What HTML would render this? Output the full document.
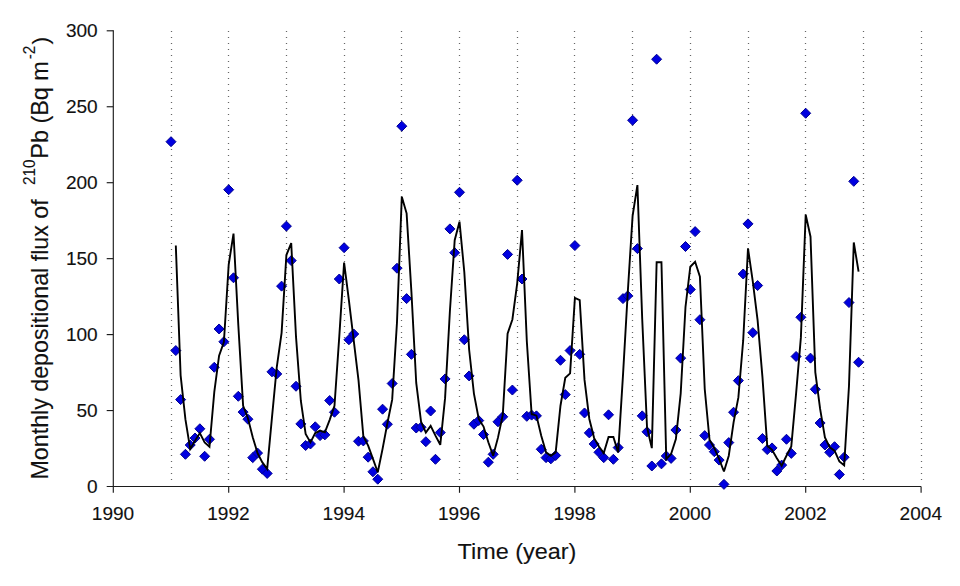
<!DOCTYPE html>
<html><head><meta charset="utf-8"><title>Monthly depositional flux of 210Pb</title>
<style>html,body{margin:0;padding:0;background:#fff;}body{width:960px;height:586px;overflow:hidden;}svg{display:block;}text{font-family:"Liberation Sans",sans-serif;fill:#111;stroke:#111;stroke-width:0.12;}</style>
</head><body>
<svg width="960" height="586" viewBox="0 0 960 586">
<rect x="0" y="0" width="960" height="586" fill="#ffffff"/>
<g stroke="#666666" stroke-width="1.05" fill="none">
<path d="M170.88 31.5h1.25M170.88 37.5h1.25M170.88 43.5h1.25M170.88 49.5h1.25M170.88 55.5h1.25M170.88 61.5h1.25M170.88 67.5h1.25M170.88 72.5h1.25M170.88 78.5h1.25M170.88 84.5h1.25M170.88 90.5h1.25M170.88 96.5h1.25M170.88 102.5h1.25M170.88 108.5h1.25M170.88 114.5h1.25M170.88 120.5h1.25M170.88 125.5h1.25M170.88 131.5h1.25M170.88 137.5h1.25M170.88 143.5h1.25M170.88 149.5h1.25M170.88 155.5h1.25M170.88 161.5h1.25M170.88 167.5h1.25M170.88 173.5h1.25M170.88 178.5h1.25M170.88 184.5h1.25M170.88 190.5h1.25M170.88 196.5h1.25M170.88 202.5h1.25M170.88 208.5h1.25M170.88 214.5h1.25M170.88 220.5h1.25M170.88 226.5h1.25M170.88 231.5h1.25M170.88 237.5h1.25M170.88 243.5h1.25M170.88 249.5h1.25M170.88 255.5h1.25M170.88 261.5h1.25M170.88 267.5h1.25M170.88 273.5h1.25M170.88 279.5h1.25M170.88 284.5h1.25M170.88 290.5h1.25M170.88 296.5h1.25M170.88 302.5h1.25M170.88 308.5h1.25M170.88 314.5h1.25M170.88 320.5h1.25M170.88 326.5h1.25M170.88 332.5h1.25M170.88 337.5h1.25M170.88 343.5h1.25M170.88 349.5h1.25M170.88 355.5h1.25M170.88 361.5h1.25M170.88 367.5h1.25M170.88 373.5h1.25M170.88 379.5h1.25M170.88 385.5h1.25M170.88 390.5h1.25M170.88 396.5h1.25M170.88 402.5h1.25M170.88 408.5h1.25M170.88 414.5h1.25M170.88 420.5h1.25M170.88 426.5h1.25M170.88 432.5h1.25M170.88 438.5h1.25M170.88 443.5h1.25M170.88 449.5h1.25M170.88 455.5h1.25M170.88 461.5h1.25M170.88 467.5h1.25M170.88 473.5h1.25M170.88 479.5h1.25"/>
<path d="M227.88 31.5h1.25M227.88 37.5h1.25M227.88 43.5h1.25M227.88 49.5h1.25M227.88 55.5h1.25M227.88 61.5h1.25M227.88 67.5h1.25M227.88 72.5h1.25M227.88 78.5h1.25M227.88 84.5h1.25M227.88 90.5h1.25M227.88 96.5h1.25M227.88 102.5h1.25M227.88 108.5h1.25M227.88 114.5h1.25M227.88 120.5h1.25M227.88 125.5h1.25M227.88 131.5h1.25M227.88 137.5h1.25M227.88 143.5h1.25M227.88 149.5h1.25M227.88 155.5h1.25M227.88 161.5h1.25M227.88 167.5h1.25M227.88 173.5h1.25M227.88 178.5h1.25M227.88 184.5h1.25M227.88 190.5h1.25M227.88 196.5h1.25M227.88 202.5h1.25M227.88 208.5h1.25M227.88 214.5h1.25M227.88 220.5h1.25M227.88 226.5h1.25M227.88 231.5h1.25M227.88 237.5h1.25M227.88 243.5h1.25M227.88 249.5h1.25M227.88 255.5h1.25M227.88 261.5h1.25M227.88 267.5h1.25M227.88 273.5h1.25M227.88 279.5h1.25M227.88 284.5h1.25M227.88 290.5h1.25M227.88 296.5h1.25M227.88 302.5h1.25M227.88 308.5h1.25M227.88 314.5h1.25M227.88 320.5h1.25M227.88 326.5h1.25M227.88 332.5h1.25M227.88 337.5h1.25M227.88 343.5h1.25M227.88 349.5h1.25M227.88 355.5h1.25M227.88 361.5h1.25M227.88 367.5h1.25M227.88 373.5h1.25M227.88 379.5h1.25M227.88 385.5h1.25M227.88 390.5h1.25M227.88 396.5h1.25M227.88 402.5h1.25M227.88 408.5h1.25M227.88 414.5h1.25M227.88 420.5h1.25M227.88 426.5h1.25M227.88 432.5h1.25M227.88 438.5h1.25M227.88 443.5h1.25M227.88 449.5h1.25M227.88 455.5h1.25M227.88 461.5h1.25M227.88 467.5h1.25M227.88 473.5h1.25M227.88 479.5h1.25"/>
<path d="M285.88 31.5h1.25M285.88 37.5h1.25M285.88 43.5h1.25M285.88 49.5h1.25M285.88 55.5h1.25M285.88 61.5h1.25M285.88 67.5h1.25M285.88 72.5h1.25M285.88 78.5h1.25M285.88 84.5h1.25M285.88 90.5h1.25M285.88 96.5h1.25M285.88 102.5h1.25M285.88 108.5h1.25M285.88 114.5h1.25M285.88 120.5h1.25M285.88 125.5h1.25M285.88 131.5h1.25M285.88 137.5h1.25M285.88 143.5h1.25M285.88 149.5h1.25M285.88 155.5h1.25M285.88 161.5h1.25M285.88 167.5h1.25M285.88 173.5h1.25M285.88 178.5h1.25M285.88 184.5h1.25M285.88 190.5h1.25M285.88 196.5h1.25M285.88 202.5h1.25M285.88 208.5h1.25M285.88 214.5h1.25M285.88 220.5h1.25M285.88 226.5h1.25M285.88 231.5h1.25M285.88 237.5h1.25M285.88 243.5h1.25M285.88 249.5h1.25M285.88 255.5h1.25M285.88 261.5h1.25M285.88 267.5h1.25M285.88 273.5h1.25M285.88 279.5h1.25M285.88 284.5h1.25M285.88 290.5h1.25M285.88 296.5h1.25M285.88 302.5h1.25M285.88 308.5h1.25M285.88 314.5h1.25M285.88 320.5h1.25M285.88 326.5h1.25M285.88 332.5h1.25M285.88 337.5h1.25M285.88 343.5h1.25M285.88 349.5h1.25M285.88 355.5h1.25M285.88 361.5h1.25M285.88 367.5h1.25M285.88 373.5h1.25M285.88 379.5h1.25M285.88 385.5h1.25M285.88 390.5h1.25M285.88 396.5h1.25M285.88 402.5h1.25M285.88 408.5h1.25M285.88 414.5h1.25M285.88 420.5h1.25M285.88 426.5h1.25M285.88 432.5h1.25M285.88 438.5h1.25M285.88 443.5h1.25M285.88 449.5h1.25M285.88 455.5h1.25M285.88 461.5h1.25M285.88 467.5h1.25M285.88 473.5h1.25M285.88 479.5h1.25"/>
<path d="M343.88 31.5h1.25M343.88 37.5h1.25M343.88 43.5h1.25M343.88 49.5h1.25M343.88 55.5h1.25M343.88 61.5h1.25M343.88 67.5h1.25M343.88 72.5h1.25M343.88 78.5h1.25M343.88 84.5h1.25M343.88 90.5h1.25M343.88 96.5h1.25M343.88 102.5h1.25M343.88 108.5h1.25M343.88 114.5h1.25M343.88 120.5h1.25M343.88 125.5h1.25M343.88 131.5h1.25M343.88 137.5h1.25M343.88 143.5h1.25M343.88 149.5h1.25M343.88 155.5h1.25M343.88 161.5h1.25M343.88 167.5h1.25M343.88 173.5h1.25M343.88 178.5h1.25M343.88 184.5h1.25M343.88 190.5h1.25M343.88 196.5h1.25M343.88 202.5h1.25M343.88 208.5h1.25M343.88 214.5h1.25M343.88 220.5h1.25M343.88 226.5h1.25M343.88 231.5h1.25M343.88 237.5h1.25M343.88 243.5h1.25M343.88 249.5h1.25M343.88 255.5h1.25M343.88 261.5h1.25M343.88 267.5h1.25M343.88 273.5h1.25M343.88 279.5h1.25M343.88 284.5h1.25M343.88 290.5h1.25M343.88 296.5h1.25M343.88 302.5h1.25M343.88 308.5h1.25M343.88 314.5h1.25M343.88 320.5h1.25M343.88 326.5h1.25M343.88 332.5h1.25M343.88 337.5h1.25M343.88 343.5h1.25M343.88 349.5h1.25M343.88 355.5h1.25M343.88 361.5h1.25M343.88 367.5h1.25M343.88 373.5h1.25M343.88 379.5h1.25M343.88 385.5h1.25M343.88 390.5h1.25M343.88 396.5h1.25M343.88 402.5h1.25M343.88 408.5h1.25M343.88 414.5h1.25M343.88 420.5h1.25M343.88 426.5h1.25M343.88 432.5h1.25M343.88 438.5h1.25M343.88 443.5h1.25M343.88 449.5h1.25M343.88 455.5h1.25M343.88 461.5h1.25M343.88 467.5h1.25M343.88 473.5h1.25M343.88 479.5h1.25"/>
<path d="M400.88 31.5h1.25M400.88 37.5h1.25M400.88 43.5h1.25M400.88 49.5h1.25M400.88 55.5h1.25M400.88 61.5h1.25M400.88 67.5h1.25M400.88 72.5h1.25M400.88 78.5h1.25M400.88 84.5h1.25M400.88 90.5h1.25M400.88 96.5h1.25M400.88 102.5h1.25M400.88 108.5h1.25M400.88 114.5h1.25M400.88 120.5h1.25M400.88 125.5h1.25M400.88 131.5h1.25M400.88 137.5h1.25M400.88 143.5h1.25M400.88 149.5h1.25M400.88 155.5h1.25M400.88 161.5h1.25M400.88 167.5h1.25M400.88 173.5h1.25M400.88 178.5h1.25M400.88 184.5h1.25M400.88 190.5h1.25M400.88 196.5h1.25M400.88 202.5h1.25M400.88 208.5h1.25M400.88 214.5h1.25M400.88 220.5h1.25M400.88 226.5h1.25M400.88 231.5h1.25M400.88 237.5h1.25M400.88 243.5h1.25M400.88 249.5h1.25M400.88 255.5h1.25M400.88 261.5h1.25M400.88 267.5h1.25M400.88 273.5h1.25M400.88 279.5h1.25M400.88 284.5h1.25M400.88 290.5h1.25M400.88 296.5h1.25M400.88 302.5h1.25M400.88 308.5h1.25M400.88 314.5h1.25M400.88 320.5h1.25M400.88 326.5h1.25M400.88 332.5h1.25M400.88 337.5h1.25M400.88 343.5h1.25M400.88 349.5h1.25M400.88 355.5h1.25M400.88 361.5h1.25M400.88 367.5h1.25M400.88 373.5h1.25M400.88 379.5h1.25M400.88 385.5h1.25M400.88 390.5h1.25M400.88 396.5h1.25M400.88 402.5h1.25M400.88 408.5h1.25M400.88 414.5h1.25M400.88 420.5h1.25M400.88 426.5h1.25M400.88 432.5h1.25M400.88 438.5h1.25M400.88 443.5h1.25M400.88 449.5h1.25M400.88 455.5h1.25M400.88 461.5h1.25M400.88 467.5h1.25M400.88 473.5h1.25M400.88 479.5h1.25"/>
<path d="M458.88 31.5h1.25M458.88 37.5h1.25M458.88 43.5h1.25M458.88 49.5h1.25M458.88 55.5h1.25M458.88 61.5h1.25M458.88 67.5h1.25M458.88 72.5h1.25M458.88 78.5h1.25M458.88 84.5h1.25M458.88 90.5h1.25M458.88 96.5h1.25M458.88 102.5h1.25M458.88 108.5h1.25M458.88 114.5h1.25M458.88 120.5h1.25M458.88 125.5h1.25M458.88 131.5h1.25M458.88 137.5h1.25M458.88 143.5h1.25M458.88 149.5h1.25M458.88 155.5h1.25M458.88 161.5h1.25M458.88 167.5h1.25M458.88 173.5h1.25M458.88 178.5h1.25M458.88 184.5h1.25M458.88 190.5h1.25M458.88 196.5h1.25M458.88 202.5h1.25M458.88 208.5h1.25M458.88 214.5h1.25M458.88 220.5h1.25M458.88 226.5h1.25M458.88 231.5h1.25M458.88 237.5h1.25M458.88 243.5h1.25M458.88 249.5h1.25M458.88 255.5h1.25M458.88 261.5h1.25M458.88 267.5h1.25M458.88 273.5h1.25M458.88 279.5h1.25M458.88 284.5h1.25M458.88 290.5h1.25M458.88 296.5h1.25M458.88 302.5h1.25M458.88 308.5h1.25M458.88 314.5h1.25M458.88 320.5h1.25M458.88 326.5h1.25M458.88 332.5h1.25M458.88 337.5h1.25M458.88 343.5h1.25M458.88 349.5h1.25M458.88 355.5h1.25M458.88 361.5h1.25M458.88 367.5h1.25M458.88 373.5h1.25M458.88 379.5h1.25M458.88 385.5h1.25M458.88 390.5h1.25M458.88 396.5h1.25M458.88 402.5h1.25M458.88 408.5h1.25M458.88 414.5h1.25M458.88 420.5h1.25M458.88 426.5h1.25M458.88 432.5h1.25M458.88 438.5h1.25M458.88 443.5h1.25M458.88 449.5h1.25M458.88 455.5h1.25M458.88 461.5h1.25M458.88 467.5h1.25M458.88 473.5h1.25M458.88 479.5h1.25"/>
<path d="M516.88 31.5h1.25M516.88 37.5h1.25M516.88 43.5h1.25M516.88 49.5h1.25M516.88 55.5h1.25M516.88 61.5h1.25M516.88 67.5h1.25M516.88 72.5h1.25M516.88 78.5h1.25M516.88 84.5h1.25M516.88 90.5h1.25M516.88 96.5h1.25M516.88 102.5h1.25M516.88 108.5h1.25M516.88 114.5h1.25M516.88 120.5h1.25M516.88 125.5h1.25M516.88 131.5h1.25M516.88 137.5h1.25M516.88 143.5h1.25M516.88 149.5h1.25M516.88 155.5h1.25M516.88 161.5h1.25M516.88 167.5h1.25M516.88 173.5h1.25M516.88 178.5h1.25M516.88 184.5h1.25M516.88 190.5h1.25M516.88 196.5h1.25M516.88 202.5h1.25M516.88 208.5h1.25M516.88 214.5h1.25M516.88 220.5h1.25M516.88 226.5h1.25M516.88 231.5h1.25M516.88 237.5h1.25M516.88 243.5h1.25M516.88 249.5h1.25M516.88 255.5h1.25M516.88 261.5h1.25M516.88 267.5h1.25M516.88 273.5h1.25M516.88 279.5h1.25M516.88 284.5h1.25M516.88 290.5h1.25M516.88 296.5h1.25M516.88 302.5h1.25M516.88 308.5h1.25M516.88 314.5h1.25M516.88 320.5h1.25M516.88 326.5h1.25M516.88 332.5h1.25M516.88 337.5h1.25M516.88 343.5h1.25M516.88 349.5h1.25M516.88 355.5h1.25M516.88 361.5h1.25M516.88 367.5h1.25M516.88 373.5h1.25M516.88 379.5h1.25M516.88 385.5h1.25M516.88 390.5h1.25M516.88 396.5h1.25M516.88 402.5h1.25M516.88 408.5h1.25M516.88 414.5h1.25M516.88 420.5h1.25M516.88 426.5h1.25M516.88 432.5h1.25M516.88 438.5h1.25M516.88 443.5h1.25M516.88 449.5h1.25M516.88 455.5h1.25M516.88 461.5h1.25M516.88 467.5h1.25M516.88 473.5h1.25M516.88 479.5h1.25"/>
<path d="M573.88 31.5h1.25M573.88 37.5h1.25M573.88 43.5h1.25M573.88 49.5h1.25M573.88 55.5h1.25M573.88 61.5h1.25M573.88 67.5h1.25M573.88 72.5h1.25M573.88 78.5h1.25M573.88 84.5h1.25M573.88 90.5h1.25M573.88 96.5h1.25M573.88 102.5h1.25M573.88 108.5h1.25M573.88 114.5h1.25M573.88 120.5h1.25M573.88 125.5h1.25M573.88 131.5h1.25M573.88 137.5h1.25M573.88 143.5h1.25M573.88 149.5h1.25M573.88 155.5h1.25M573.88 161.5h1.25M573.88 167.5h1.25M573.88 173.5h1.25M573.88 178.5h1.25M573.88 184.5h1.25M573.88 190.5h1.25M573.88 196.5h1.25M573.88 202.5h1.25M573.88 208.5h1.25M573.88 214.5h1.25M573.88 220.5h1.25M573.88 226.5h1.25M573.88 231.5h1.25M573.88 237.5h1.25M573.88 243.5h1.25M573.88 249.5h1.25M573.88 255.5h1.25M573.88 261.5h1.25M573.88 267.5h1.25M573.88 273.5h1.25M573.88 279.5h1.25M573.88 284.5h1.25M573.88 290.5h1.25M573.88 296.5h1.25M573.88 302.5h1.25M573.88 308.5h1.25M573.88 314.5h1.25M573.88 320.5h1.25M573.88 326.5h1.25M573.88 332.5h1.25M573.88 337.5h1.25M573.88 343.5h1.25M573.88 349.5h1.25M573.88 355.5h1.25M573.88 361.5h1.25M573.88 367.5h1.25M573.88 373.5h1.25M573.88 379.5h1.25M573.88 385.5h1.25M573.88 390.5h1.25M573.88 396.5h1.25M573.88 402.5h1.25M573.88 408.5h1.25M573.88 414.5h1.25M573.88 420.5h1.25M573.88 426.5h1.25M573.88 432.5h1.25M573.88 438.5h1.25M573.88 443.5h1.25M573.88 449.5h1.25M573.88 455.5h1.25M573.88 461.5h1.25M573.88 467.5h1.25M573.88 473.5h1.25M573.88 479.5h1.25"/>
<path d="M631.88 31.5h1.25M631.88 37.5h1.25M631.88 43.5h1.25M631.88 49.5h1.25M631.88 55.5h1.25M631.88 61.5h1.25M631.88 67.5h1.25M631.88 72.5h1.25M631.88 78.5h1.25M631.88 84.5h1.25M631.88 90.5h1.25M631.88 96.5h1.25M631.88 102.5h1.25M631.88 108.5h1.25M631.88 114.5h1.25M631.88 120.5h1.25M631.88 125.5h1.25M631.88 131.5h1.25M631.88 137.5h1.25M631.88 143.5h1.25M631.88 149.5h1.25M631.88 155.5h1.25M631.88 161.5h1.25M631.88 167.5h1.25M631.88 173.5h1.25M631.88 178.5h1.25M631.88 184.5h1.25M631.88 190.5h1.25M631.88 196.5h1.25M631.88 202.5h1.25M631.88 208.5h1.25M631.88 214.5h1.25M631.88 220.5h1.25M631.88 226.5h1.25M631.88 231.5h1.25M631.88 237.5h1.25M631.88 243.5h1.25M631.88 249.5h1.25M631.88 255.5h1.25M631.88 261.5h1.25M631.88 267.5h1.25M631.88 273.5h1.25M631.88 279.5h1.25M631.88 284.5h1.25M631.88 290.5h1.25M631.88 296.5h1.25M631.88 302.5h1.25M631.88 308.5h1.25M631.88 314.5h1.25M631.88 320.5h1.25M631.88 326.5h1.25M631.88 332.5h1.25M631.88 337.5h1.25M631.88 343.5h1.25M631.88 349.5h1.25M631.88 355.5h1.25M631.88 361.5h1.25M631.88 367.5h1.25M631.88 373.5h1.25M631.88 379.5h1.25M631.88 385.5h1.25M631.88 390.5h1.25M631.88 396.5h1.25M631.88 402.5h1.25M631.88 408.5h1.25M631.88 414.5h1.25M631.88 420.5h1.25M631.88 426.5h1.25M631.88 432.5h1.25M631.88 438.5h1.25M631.88 443.5h1.25M631.88 449.5h1.25M631.88 455.5h1.25M631.88 461.5h1.25M631.88 467.5h1.25M631.88 473.5h1.25M631.88 479.5h1.25"/>
<path d="M689.88 31.5h1.25M689.88 37.5h1.25M689.88 43.5h1.25M689.88 49.5h1.25M689.88 55.5h1.25M689.88 61.5h1.25M689.88 67.5h1.25M689.88 72.5h1.25M689.88 78.5h1.25M689.88 84.5h1.25M689.88 90.5h1.25M689.88 96.5h1.25M689.88 102.5h1.25M689.88 108.5h1.25M689.88 114.5h1.25M689.88 120.5h1.25M689.88 125.5h1.25M689.88 131.5h1.25M689.88 137.5h1.25M689.88 143.5h1.25M689.88 149.5h1.25M689.88 155.5h1.25M689.88 161.5h1.25M689.88 167.5h1.25M689.88 173.5h1.25M689.88 178.5h1.25M689.88 184.5h1.25M689.88 190.5h1.25M689.88 196.5h1.25M689.88 202.5h1.25M689.88 208.5h1.25M689.88 214.5h1.25M689.88 220.5h1.25M689.88 226.5h1.25M689.88 231.5h1.25M689.88 237.5h1.25M689.88 243.5h1.25M689.88 249.5h1.25M689.88 255.5h1.25M689.88 261.5h1.25M689.88 267.5h1.25M689.88 273.5h1.25M689.88 279.5h1.25M689.88 284.5h1.25M689.88 290.5h1.25M689.88 296.5h1.25M689.88 302.5h1.25M689.88 308.5h1.25M689.88 314.5h1.25M689.88 320.5h1.25M689.88 326.5h1.25M689.88 332.5h1.25M689.88 337.5h1.25M689.88 343.5h1.25M689.88 349.5h1.25M689.88 355.5h1.25M689.88 361.5h1.25M689.88 367.5h1.25M689.88 373.5h1.25M689.88 379.5h1.25M689.88 385.5h1.25M689.88 390.5h1.25M689.88 396.5h1.25M689.88 402.5h1.25M689.88 408.5h1.25M689.88 414.5h1.25M689.88 420.5h1.25M689.88 426.5h1.25M689.88 432.5h1.25M689.88 438.5h1.25M689.88 443.5h1.25M689.88 449.5h1.25M689.88 455.5h1.25M689.88 461.5h1.25M689.88 467.5h1.25M689.88 473.5h1.25M689.88 479.5h1.25"/>
<path d="M747.88 31.5h1.25M747.88 37.5h1.25M747.88 43.5h1.25M747.88 49.5h1.25M747.88 55.5h1.25M747.88 61.5h1.25M747.88 67.5h1.25M747.88 72.5h1.25M747.88 78.5h1.25M747.88 84.5h1.25M747.88 90.5h1.25M747.88 96.5h1.25M747.88 102.5h1.25M747.88 108.5h1.25M747.88 114.5h1.25M747.88 120.5h1.25M747.88 125.5h1.25M747.88 131.5h1.25M747.88 137.5h1.25M747.88 143.5h1.25M747.88 149.5h1.25M747.88 155.5h1.25M747.88 161.5h1.25M747.88 167.5h1.25M747.88 173.5h1.25M747.88 178.5h1.25M747.88 184.5h1.25M747.88 190.5h1.25M747.88 196.5h1.25M747.88 202.5h1.25M747.88 208.5h1.25M747.88 214.5h1.25M747.88 220.5h1.25M747.88 226.5h1.25M747.88 231.5h1.25M747.88 237.5h1.25M747.88 243.5h1.25M747.88 249.5h1.25M747.88 255.5h1.25M747.88 261.5h1.25M747.88 267.5h1.25M747.88 273.5h1.25M747.88 279.5h1.25M747.88 284.5h1.25M747.88 290.5h1.25M747.88 296.5h1.25M747.88 302.5h1.25M747.88 308.5h1.25M747.88 314.5h1.25M747.88 320.5h1.25M747.88 326.5h1.25M747.88 332.5h1.25M747.88 337.5h1.25M747.88 343.5h1.25M747.88 349.5h1.25M747.88 355.5h1.25M747.88 361.5h1.25M747.88 367.5h1.25M747.88 373.5h1.25M747.88 379.5h1.25M747.88 385.5h1.25M747.88 390.5h1.25M747.88 396.5h1.25M747.88 402.5h1.25M747.88 408.5h1.25M747.88 414.5h1.25M747.88 420.5h1.25M747.88 426.5h1.25M747.88 432.5h1.25M747.88 438.5h1.25M747.88 443.5h1.25M747.88 449.5h1.25M747.88 455.5h1.25M747.88 461.5h1.25M747.88 467.5h1.25M747.88 473.5h1.25M747.88 479.5h1.25"/>
<path d="M804.88 31.5h1.25M804.88 37.5h1.25M804.88 43.5h1.25M804.88 49.5h1.25M804.88 55.5h1.25M804.88 61.5h1.25M804.88 67.5h1.25M804.88 72.5h1.25M804.88 78.5h1.25M804.88 84.5h1.25M804.88 90.5h1.25M804.88 96.5h1.25M804.88 102.5h1.25M804.88 108.5h1.25M804.88 114.5h1.25M804.88 120.5h1.25M804.88 125.5h1.25M804.88 131.5h1.25M804.88 137.5h1.25M804.88 143.5h1.25M804.88 149.5h1.25M804.88 155.5h1.25M804.88 161.5h1.25M804.88 167.5h1.25M804.88 173.5h1.25M804.88 178.5h1.25M804.88 184.5h1.25M804.88 190.5h1.25M804.88 196.5h1.25M804.88 202.5h1.25M804.88 208.5h1.25M804.88 214.5h1.25M804.88 220.5h1.25M804.88 226.5h1.25M804.88 231.5h1.25M804.88 237.5h1.25M804.88 243.5h1.25M804.88 249.5h1.25M804.88 255.5h1.25M804.88 261.5h1.25M804.88 267.5h1.25M804.88 273.5h1.25M804.88 279.5h1.25M804.88 284.5h1.25M804.88 290.5h1.25M804.88 296.5h1.25M804.88 302.5h1.25M804.88 308.5h1.25M804.88 314.5h1.25M804.88 320.5h1.25M804.88 326.5h1.25M804.88 332.5h1.25M804.88 337.5h1.25M804.88 343.5h1.25M804.88 349.5h1.25M804.88 355.5h1.25M804.88 361.5h1.25M804.88 367.5h1.25M804.88 373.5h1.25M804.88 379.5h1.25M804.88 385.5h1.25M804.88 390.5h1.25M804.88 396.5h1.25M804.88 402.5h1.25M804.88 408.5h1.25M804.88 414.5h1.25M804.88 420.5h1.25M804.88 426.5h1.25M804.88 432.5h1.25M804.88 438.5h1.25M804.88 443.5h1.25M804.88 449.5h1.25M804.88 455.5h1.25M804.88 461.5h1.25M804.88 467.5h1.25M804.88 473.5h1.25M804.88 479.5h1.25"/>
<path d="M862.88 31.5h1.25M862.88 37.5h1.25M862.88 43.5h1.25M862.88 49.5h1.25M862.88 55.5h1.25M862.88 61.5h1.25M862.88 67.5h1.25M862.88 72.5h1.25M862.88 78.5h1.25M862.88 84.5h1.25M862.88 90.5h1.25M862.88 96.5h1.25M862.88 102.5h1.25M862.88 108.5h1.25M862.88 114.5h1.25M862.88 120.5h1.25M862.88 125.5h1.25M862.88 131.5h1.25M862.88 137.5h1.25M862.88 143.5h1.25M862.88 149.5h1.25M862.88 155.5h1.25M862.88 161.5h1.25M862.88 167.5h1.25M862.88 173.5h1.25M862.88 178.5h1.25M862.88 184.5h1.25M862.88 190.5h1.25M862.88 196.5h1.25M862.88 202.5h1.25M862.88 208.5h1.25M862.88 214.5h1.25M862.88 220.5h1.25M862.88 226.5h1.25M862.88 231.5h1.25M862.88 237.5h1.25M862.88 243.5h1.25M862.88 249.5h1.25M862.88 255.5h1.25M862.88 261.5h1.25M862.88 267.5h1.25M862.88 273.5h1.25M862.88 279.5h1.25M862.88 284.5h1.25M862.88 290.5h1.25M862.88 296.5h1.25M862.88 302.5h1.25M862.88 308.5h1.25M862.88 314.5h1.25M862.88 320.5h1.25M862.88 326.5h1.25M862.88 332.5h1.25M862.88 337.5h1.25M862.88 343.5h1.25M862.88 349.5h1.25M862.88 355.5h1.25M862.88 361.5h1.25M862.88 367.5h1.25M862.88 373.5h1.25M862.88 379.5h1.25M862.88 385.5h1.25M862.88 390.5h1.25M862.88 396.5h1.25M862.88 402.5h1.25M862.88 408.5h1.25M862.88 414.5h1.25M862.88 420.5h1.25M862.88 426.5h1.25M862.88 432.5h1.25M862.88 438.5h1.25M862.88 443.5h1.25M862.88 449.5h1.25M862.88 455.5h1.25M862.88 461.5h1.25M862.88 467.5h1.25M862.88 473.5h1.25M862.88 479.5h1.25"/>
<path d="M920.88 31.5h1.25M920.88 37.5h1.25M920.88 43.5h1.25M920.88 49.5h1.25M920.88 55.5h1.25M920.88 61.5h1.25M920.88 67.5h1.25M920.88 72.5h1.25M920.88 78.5h1.25M920.88 84.5h1.25M920.88 90.5h1.25M920.88 96.5h1.25M920.88 102.5h1.25M920.88 108.5h1.25M920.88 114.5h1.25M920.88 120.5h1.25M920.88 125.5h1.25M920.88 131.5h1.25M920.88 137.5h1.25M920.88 143.5h1.25M920.88 149.5h1.25M920.88 155.5h1.25M920.88 161.5h1.25M920.88 167.5h1.25M920.88 173.5h1.25M920.88 178.5h1.25M920.88 184.5h1.25M920.88 190.5h1.25M920.88 196.5h1.25M920.88 202.5h1.25M920.88 208.5h1.25M920.88 214.5h1.25M920.88 220.5h1.25M920.88 226.5h1.25M920.88 231.5h1.25M920.88 237.5h1.25M920.88 243.5h1.25M920.88 249.5h1.25M920.88 255.5h1.25M920.88 261.5h1.25M920.88 267.5h1.25M920.88 273.5h1.25M920.88 279.5h1.25M920.88 284.5h1.25M920.88 290.5h1.25M920.88 296.5h1.25M920.88 302.5h1.25M920.88 308.5h1.25M920.88 314.5h1.25M920.88 320.5h1.25M920.88 326.5h1.25M920.88 332.5h1.25M920.88 337.5h1.25M920.88 343.5h1.25M920.88 349.5h1.25M920.88 355.5h1.25M920.88 361.5h1.25M920.88 367.5h1.25M920.88 373.5h1.25M920.88 379.5h1.25M920.88 385.5h1.25M920.88 390.5h1.25M920.88 396.5h1.25M920.88 402.5h1.25M920.88 408.5h1.25M920.88 414.5h1.25M920.88 420.5h1.25M920.88 426.5h1.25M920.88 432.5h1.25M920.88 438.5h1.25M920.88 443.5h1.25M920.88 449.5h1.25M920.88 455.5h1.25M920.88 461.5h1.25M920.88 467.5h1.25M920.88 473.5h1.25M920.88 479.5h1.25"/>
</g>
<g stroke="#1c1c1c" stroke-width="1.15" fill="none">
<line x1="113.30" y1="30.23" x2="113.30" y2="487.07"/>
<line x1="106.70" y1="486.50" x2="921.10" y2="486.50"/>
<line x1="106.70" y1="410.55" x2="113.30" y2="410.55"/>
<line x1="106.70" y1="334.60" x2="113.30" y2="334.60"/>
<line x1="106.70" y1="258.65" x2="113.30" y2="258.65"/>
<line x1="106.70" y1="182.70" x2="113.30" y2="182.70"/>
<line x1="106.70" y1="106.75" x2="113.30" y2="106.75"/>
<line x1="106.70" y1="30.80" x2="113.30" y2="30.80"/>
<line x1="113.30" y1="486.50" x2="113.30" y2="492.80"/>
<line x1="228.70" y1="486.50" x2="228.70" y2="492.80"/>
<line x1="344.10" y1="486.50" x2="344.10" y2="492.80"/>
<line x1="459.50" y1="486.50" x2="459.50" y2="492.80"/>
<line x1="574.90" y1="486.50" x2="574.90" y2="492.80"/>
<line x1="690.30" y1="486.50" x2="690.30" y2="492.80"/>
<line x1="805.70" y1="486.50" x2="805.70" y2="492.80"/>
<line x1="921.10" y1="486.50" x2="921.10" y2="492.80"/>
</g>
<g fill="#0000E0" stroke="#000090" stroke-width="1.00" stroke-linejoin="miter">
<path d="M171.00 136.69 L176.00 141.69 L171.00 146.69 L166.00 141.69Z"/>
<path d="M175.81 345.55 L180.81 350.55 L175.81 355.55 L170.81 350.55Z"/>
<path d="M180.62 394.61 L185.62 399.61 L180.62 404.61 L175.62 399.61Z"/>
<path d="M185.43 449.30 L190.43 454.30 L185.43 459.30 L180.43 454.30Z"/>
<path d="M190.23 440.03 L195.23 445.03 L190.23 450.03 L185.23 445.03Z"/>
<path d="M195.04 433.04 L200.04 438.04 L195.04 443.04 L190.04 438.04Z"/>
<path d="M199.85 423.78 L204.85 428.78 L199.85 433.78 L194.85 428.78Z"/>
<path d="M204.66 451.27 L209.66 456.27 L204.66 461.27 L199.66 456.27Z"/>
<path d="M209.47 434.26 L214.47 439.26 L209.47 444.26 L204.47 439.26Z"/>
<path d="M214.28 362.26 L219.28 367.26 L214.28 372.26 L209.28 367.26Z"/>
<path d="M219.08 323.98 L224.08 328.98 L219.08 333.98 L214.08 328.98Z"/>
<path d="M223.89 336.74 L228.89 341.74 L223.89 346.74 L218.89 341.74Z"/>
<path d="M228.70 184.69 L233.70 189.69 L228.70 194.69 L223.70 189.69Z"/>
<path d="M233.51 272.79 L238.51 277.79 L233.51 282.79 L228.51 277.79Z"/>
<path d="M238.32 391.27 L243.32 396.27 L238.32 401.27 L233.32 396.27Z"/>
<path d="M243.12 407.07 L248.12 412.07 L243.12 417.07 L238.12 412.07Z"/>
<path d="M247.93 414.21 L252.93 419.21 L247.93 424.21 L242.93 419.21Z"/>
<path d="M252.74 452.64 L257.74 457.64 L252.74 462.64 L247.74 457.64Z"/>
<path d="M257.55 448.08 L262.55 453.08 L257.55 458.08 L252.55 453.08Z"/>
<path d="M262.36 464.18 L267.36 469.18 L262.36 474.18 L257.36 469.18Z"/>
<path d="M267.17 468.44 L272.17 473.44 L267.17 478.44 L262.17 473.44Z"/>
<path d="M271.98 366.82 L276.98 371.82 L271.98 376.82 L266.98 371.82Z"/>
<path d="M276.78 368.94 L281.78 373.94 L276.78 378.94 L271.78 373.94Z"/>
<path d="M281.59 281.14 L286.59 286.14 L281.59 291.14 L276.59 286.14Z"/>
<path d="M286.40 221.14 L291.40 226.14 L286.40 231.14 L281.40 226.14Z"/>
<path d="M291.21 255.62 L296.21 260.62 L291.21 265.62 L286.21 260.62Z"/>
<path d="M296.02 381.25 L301.02 386.25 L296.02 391.25 L291.02 386.25Z"/>
<path d="M300.83 418.92 L305.83 423.92 L300.83 428.92 L295.83 423.92Z"/>
<path d="M305.63 440.49 L310.63 445.49 L305.63 450.49 L300.63 445.49Z"/>
<path d="M310.44 438.97 L315.44 443.97 L310.44 448.97 L305.44 443.97Z"/>
<path d="M315.25 421.80 L320.25 426.80 L315.25 431.80 L310.25 426.80Z"/>
<path d="M320.06 430.61 L325.06 435.61 L320.06 440.61 L315.06 435.61Z"/>
<path d="M324.87 429.85 L329.87 434.85 L324.87 439.85 L319.87 434.85Z"/>
<path d="M329.68 395.52 L334.68 400.52 L329.68 405.52 L324.68 400.52Z"/>
<path d="M334.48 407.22 L339.48 412.22 L334.48 417.22 L329.48 412.22Z"/>
<path d="M339.29 274.00 L344.29 279.00 L339.29 284.00 L334.29 279.00Z"/>
<path d="M344.10 242.71 L349.10 247.71 L344.10 252.71 L339.10 247.71Z"/>
<path d="M348.91 334.76 L353.91 339.76 L348.91 344.76 L343.91 339.76Z"/>
<path d="M353.72 328.99 L358.72 333.99 L353.72 338.99 L348.72 333.99Z"/>
<path d="M358.52 436.23 L363.52 441.23 L358.52 446.23 L353.52 441.23Z"/>
<path d="M363.33 435.93 L368.33 440.93 L363.33 445.93 L358.33 440.93Z"/>
<path d="M368.14 452.18 L373.14 457.18 L368.14 462.18 L363.14 457.18Z"/>
<path d="M372.95 466.77 L377.95 471.77 L372.95 476.77 L367.95 471.77Z"/>
<path d="M377.76 474.21 L382.76 479.21 L377.76 484.21 L372.76 479.21Z"/>
<path d="M382.57 404.18 L387.57 409.18 L382.57 414.18 L377.57 409.18Z"/>
<path d="M387.38 419.22 L392.38 424.22 L387.38 429.22 L382.38 424.22Z"/>
<path d="M392.18 378.51 L397.18 383.51 L392.18 388.51 L387.18 383.51Z"/>
<path d="M396.99 263.22 L401.99 268.22 L396.99 273.22 L391.99 268.22Z"/>
<path d="M401.80 121.19 L406.80 126.19 L401.80 131.19 L396.80 126.19Z"/>
<path d="M406.61 293.60 L411.61 298.60 L406.61 303.60 L401.61 298.60Z"/>
<path d="M411.42 349.35 L416.42 354.35 L411.42 359.35 L406.42 354.35Z"/>
<path d="M416.23 423.02 L421.23 428.02 L416.23 433.02 L411.23 428.02Z"/>
<path d="M421.03 422.26 L426.03 427.26 L421.03 432.26 L416.03 427.26Z"/>
<path d="M425.84 436.69 L430.84 441.69 L425.84 446.69 L420.84 441.69Z"/>
<path d="M430.65 406.01 L435.65 411.01 L430.65 416.01 L425.65 411.01Z"/>
<path d="M435.46 454.31 L440.46 459.31 L435.46 464.31 L430.46 459.31Z"/>
<path d="M440.27 427.58 L445.27 432.58 L440.27 437.58 L435.27 432.58Z"/>
<path d="M445.07 373.95 L450.07 378.95 L445.07 383.95 L440.07 378.95Z"/>
<path d="M449.88 223.88 L454.88 228.88 L449.88 233.88 L444.88 228.88Z"/>
<path d="M454.69 247.73 L459.69 252.73 L454.69 257.73 L449.69 252.73Z"/>
<path d="M459.50 187.27 L464.50 192.27 L459.50 197.27 L454.50 192.27Z"/>
<path d="M464.31 334.76 L469.31 339.76 L464.31 344.76 L459.31 339.76Z"/>
<path d="M469.12 370.92 L474.12 375.92 L469.12 380.92 L464.12 375.92Z"/>
<path d="M473.93 419.22 L478.93 424.22 L473.93 429.22 L468.93 424.22Z"/>
<path d="M478.73 415.58 L483.73 420.58 L478.73 425.58 L473.73 420.58Z"/>
<path d="M483.54 429.55 L488.54 434.55 L483.54 439.55 L478.54 434.55Z"/>
<path d="M488.35 457.20 L493.35 462.20 L488.35 467.20 L483.35 462.20Z"/>
<path d="M493.16 449.30 L498.16 454.30 L493.16 459.30 L488.16 454.30Z"/>
<path d="M497.97 416.79 L502.97 421.79 L497.97 426.79 L492.97 421.79Z"/>
<path d="M502.78 411.78 L507.78 416.78 L502.78 421.78 L497.78 416.78Z"/>
<path d="M507.58 249.40 L512.58 254.40 L507.58 259.40 L502.58 254.40Z"/>
<path d="M512.39 385.04 L517.39 390.04 L512.39 395.04 L507.39 390.04Z"/>
<path d="M517.20 175.27 L522.20 180.27 L517.20 185.27 L512.20 180.27Z"/>
<path d="M522.01 274.00 L527.01 279.00 L522.01 284.00 L517.01 279.00Z"/>
<path d="M526.82 411.32 L531.82 416.32 L526.82 421.32 L521.82 416.32Z"/>
<path d="M531.62 410.11 L536.62 415.11 L531.62 420.11 L526.62 415.11Z"/>
<path d="M536.43 410.87 L541.43 415.87 L536.43 420.87 L531.43 415.87Z"/>
<path d="M541.24 444.28 L546.24 449.28 L541.24 454.28 L536.24 449.28Z"/>
<path d="M546.05 452.64 L551.05 457.64 L546.05 462.64 L541.05 457.64Z"/>
<path d="M550.86 453.85 L555.86 458.85 L550.86 463.85 L545.86 458.85Z"/>
<path d="M555.67 450.51 L560.67 455.51 L555.67 460.51 L550.67 455.51Z"/>
<path d="M560.47 355.27 L565.47 360.27 L560.47 365.27 L555.47 360.27Z"/>
<path d="M565.28 389.60 L570.28 394.60 L565.28 399.60 L560.28 394.60Z"/>
<path d="M570.09 345.55 L575.09 350.55 L570.09 355.55 L565.09 350.55Z"/>
<path d="M574.90 240.59 L579.90 245.59 L574.90 250.59 L569.90 245.59Z"/>
<path d="M579.71 349.35 L584.71 354.35 L579.71 359.35 L574.71 354.35Z"/>
<path d="M584.52 407.98 L589.52 412.98 L584.52 417.98 L579.52 412.98Z"/>
<path d="M589.33 427.88 L594.33 432.88 L589.33 437.88 L584.33 432.88Z"/>
<path d="M594.13 438.97 L599.13 443.97 L594.13 448.97 L589.13 443.97Z"/>
<path d="M598.94 447.32 L603.94 452.32 L598.94 457.32 L593.94 452.32Z"/>
<path d="M603.75 452.64 L608.75 457.64 L603.75 462.64 L598.75 457.64Z"/>
<path d="M608.56 409.80 L613.56 414.80 L608.56 419.80 L603.56 414.80Z"/>
<path d="M613.37 454.31 L618.37 459.31 L613.37 464.31 L608.37 459.31Z"/>
<path d="M618.17 442.61 L623.17 447.61 L618.17 452.61 L613.17 447.61Z"/>
<path d="M622.98 293.60 L627.98 298.60 L622.98 303.60 L617.98 298.60Z"/>
<path d="M627.79 290.87 L632.79 295.87 L627.79 300.87 L622.79 295.87Z"/>
<path d="M632.60 115.27 L637.60 120.27 L632.60 125.27 L627.60 120.27Z"/>
<path d="M637.41 243.62 L642.41 248.62 L637.41 253.62 L632.41 248.62Z"/>
<path d="M642.22 410.87 L647.22 415.87 L642.22 420.87 L637.22 415.87Z"/>
<path d="M647.03 426.82 L652.03 431.82 L647.03 436.82 L642.03 431.82Z"/>
<path d="M651.83 460.99 L656.83 465.99 L651.83 470.99 L646.83 465.99Z"/>
<path d="M656.64 54.21 L661.64 59.21 L656.64 64.21 L651.64 59.21Z"/>
<path d="M661.45 458.87 L666.45 463.87 L661.45 468.87 L656.45 463.87Z"/>
<path d="M666.26 450.97 L671.26 455.97 L666.26 460.97 L661.26 455.97Z"/>
<path d="M671.07 453.40 L676.07 458.40 L671.07 463.40 L666.07 458.40Z"/>
<path d="M675.88 424.99 L680.88 429.99 L675.88 434.99 L670.88 429.99Z"/>
<path d="M680.68 353.14 L685.68 358.14 L680.68 363.14 L675.68 358.14Z"/>
<path d="M685.49 241.50 L690.49 246.50 L685.49 251.50 L680.49 246.50Z"/>
<path d="M690.30 284.49 L695.30 289.49 L690.30 294.49 L685.30 289.49Z"/>
<path d="M695.11 226.61 L700.11 231.61 L695.11 236.61 L690.11 231.61Z"/>
<path d="M699.92 314.71 L704.92 319.71 L699.92 324.71 L694.92 319.71Z"/>
<path d="M704.73 430.61 L709.73 435.61 L704.73 440.61 L699.73 435.61Z"/>
<path d="M709.53 440.03 L714.53 445.03 L709.53 450.03 L704.53 445.03Z"/>
<path d="M714.34 446.71 L719.34 451.71 L714.34 456.71 L709.34 451.71Z"/>
<path d="M719.15 455.07 L724.15 460.07 L719.15 465.07 L714.15 460.07Z"/>
<path d="M723.96 479.37 L728.96 484.37 L723.96 489.37 L718.96 484.37Z"/>
<path d="M728.77 437.60 L733.77 442.60 L728.77 447.60 L723.77 442.60Z"/>
<path d="M733.58 407.22 L738.58 412.22 L733.58 417.22 L728.58 412.22Z"/>
<path d="M738.38 375.63 L743.38 380.63 L738.38 385.63 L733.38 380.63Z"/>
<path d="M743.19 268.99 L748.19 273.99 L743.19 278.99 L738.19 273.99Z"/>
<path d="M748.00 218.86 L753.00 223.86 L748.00 228.86 L743.00 223.86Z"/>
<path d="M752.81 327.63 L757.81 332.63 L752.81 337.63 L747.81 332.63Z"/>
<path d="M757.62 280.54 L762.62 285.54 L757.62 290.54 L752.62 285.54Z"/>
<path d="M762.43 433.50 L767.43 438.50 L762.43 443.50 L757.43 438.50Z"/>
<path d="M767.23 444.59 L772.23 449.59 L767.23 454.59 L762.23 449.59Z"/>
<path d="M772.04 442.92 L777.04 447.92 L772.04 452.92 L767.04 447.92Z"/>
<path d="M776.85 466.01 L781.85 471.01 L776.85 476.01 L771.85 471.01Z"/>
<path d="M781.66 460.08 L786.66 465.08 L781.66 470.08 L776.66 465.08Z"/>
<path d="M786.47 434.26 L791.47 439.26 L786.47 444.26 L781.47 439.26Z"/>
<path d="M791.27 448.39 L796.27 453.39 L791.27 458.39 L786.27 453.39Z"/>
<path d="M796.08 351.47 L801.08 356.47 L796.08 361.47 L791.08 356.47Z"/>
<path d="M800.89 312.28 L805.89 317.28 L800.89 322.28 L795.89 317.28Z"/>
<path d="M805.70 108.28 L810.70 113.28 L805.70 118.28 L800.70 113.28Z"/>
<path d="M810.51 353.14 L815.51 358.14 L810.51 363.14 L805.51 358.14Z"/>
<path d="M815.32 384.28 L820.32 389.28 L815.32 394.28 L810.32 389.28Z"/>
<path d="M820.12 418.01 L825.12 423.01 L820.12 428.01 L815.12 423.01Z"/>
<path d="M824.93 440.03 L829.93 445.03 L824.93 450.03 L819.93 445.03Z"/>
<path d="M829.74 447.32 L834.74 452.32 L829.74 457.32 L824.74 452.32Z"/>
<path d="M834.55 441.70 L839.55 446.70 L834.55 451.70 L829.55 446.70Z"/>
<path d="M839.36 469.50 L844.36 474.50 L839.36 479.50 L834.36 474.50Z"/>
<path d="M844.17 452.18 L849.17 457.18 L844.17 462.18 L839.17 457.18Z"/>
<path d="M848.98 297.55 L853.98 302.55 L848.98 307.55 L843.98 302.55Z"/>
<path d="M853.78 176.33 L858.78 181.33 L853.78 186.33 L848.78 181.33Z"/>
<path d="M858.59 357.25 L863.59 362.25 L858.59 367.25 L853.59 362.25Z"/>
</g>
<path d="M175.81 245.49 L180.62 375.36 L185.43 419.41 L190.23 449.03 L195.04 440.68 L199.85 433.08 L204.66 442.35 L209.47 446.76 L214.28 392.07 L219.08 355.62 L223.89 341.95 L228.70 264.48 L233.51 233.64 L238.32 325.24 L243.12 405.74 L247.93 418.20 L252.74 437.34 L257.55 453.14 L262.36 462.40 L267.17 468.93 L271.98 417.29 L276.78 367.01 L281.59 332.83 L286.40 255.06 L291.21 243.06 L296.02 336.93 L300.83 400.73 L305.63 434.00 L310.44 442.35 L315.25 433.08 L320.06 430.65 L324.87 432.33 L329.68 419.87 L334.48 405.74 L339.29 336.32 L344.10 262.50 L348.91 300.32 L353.72 340.43 L358.52 380.38 L363.33 436.12 L368.14 445.69 L372.95 458.91 L377.76 472.28 L382.57 448.88 L387.38 423.21 L392.18 399.67 L396.99 322.20 L401.80 196.73 L406.61 213.29 L411.42 291.97 L416.23 382.96 L421.03 421.54 L425.84 432.63 L430.65 425.95 L435.46 435.67 L440.27 444.78 L445.07 398.15 L449.88 311.56 L454.69 240.17 L459.50 221.64 L464.31 272.07 L469.12 349.54 L473.93 393.59 L478.73 418.96 L483.54 426.55 L488.35 442.20 L493.16 455.72 L497.97 437.64 L502.78 414.86 L507.58 333.74 L512.39 319.46 L517.20 283.31 L522.01 229.99 L526.82 341.19 L531.62 413.95 L536.43 415.62 L541.24 435.67 L546.05 452.38 L550.86 455.72 L555.67 452.38 L560.47 405.74 L565.28 377.79 L570.09 373.39 L574.90 297.89 L579.71 300.02 L584.52 379.92 L589.33 418.96 L594.13 438.10 L598.94 446.45 L603.75 453.14 L608.56 437.03 L613.37 437.03 L618.17 452.38 L622.98 375.36 L627.79 291.97 L632.60 215.87 L637.41 185.03 L642.22 319.16 L647.03 427.31 L651.83 448.12 L656.64 262.20 L661.45 262.20 L666.26 459.06 L671.07 454.05 L675.88 439.01 L680.68 393.59 L685.49 307.01 L690.30 266.75 L695.11 261.74 L699.92 276.63 L704.73 389.03 L709.53 439.77 L714.34 448.12 L719.15 459.06 L723.96 471.52 L728.77 455.72 L733.58 422.30 L738.38 397.39 L743.19 340.43 L748.00 248.37 L752.81 281.64 L757.62 320.38 L762.43 376.88 L767.23 445.69 L772.04 449.79 L776.85 458.15 L781.66 465.74 L786.47 455.72 L791.27 446.45 L796.08 393.59 L800.89 337.39 L805.70 214.65 L810.51 236.68 L815.32 372.32 L820.12 408.93 L824.93 437.34 L829.74 447.36 L834.55 450.71 L839.36 461.49 L844.17 465.29 L848.98 386.00 L853.78 242.45 L858.59 271.62" fill="none" stroke="#000" stroke-width="1.90" stroke-linejoin="miter" stroke-miterlimit="3" stroke-linecap="butt"/>
<text transform="translate(97.70 492.80) scale(1.060 1)" font-size="18.00" text-anchor="end">0</text>
<text transform="translate(97.70 416.85) scale(1.060 1)" font-size="18.00" text-anchor="end">50</text>
<text transform="translate(97.70 340.90) scale(1.060 1)" font-size="18.00" text-anchor="end">100</text>
<text transform="translate(97.70 264.95) scale(1.060 1)" font-size="18.00" text-anchor="end">150</text>
<text transform="translate(97.70 189.00) scale(1.060 1)" font-size="18.00" text-anchor="end">200</text>
<text transform="translate(97.70 113.05) scale(1.060 1)" font-size="18.00" text-anchor="end">250</text>
<text transform="translate(97.70 37.10) scale(1.060 1)" font-size="18.00" text-anchor="end">300</text>
<text transform="translate(113.00 519.60) scale(1.060 1)" font-size="18.00" text-anchor="middle">1990</text>
<text transform="translate(228.40 519.60) scale(1.060 1)" font-size="18.00" text-anchor="middle">1992</text>
<text transform="translate(343.80 519.60) scale(1.060 1)" font-size="18.00" text-anchor="middle">1994</text>
<text transform="translate(459.20 519.60) scale(1.060 1)" font-size="18.00" text-anchor="middle">1996</text>
<text transform="translate(574.60 519.60) scale(1.060 1)" font-size="18.00" text-anchor="middle">1998</text>
<text transform="translate(690.00 519.60) scale(1.060 1)" font-size="18.00" text-anchor="middle">2000</text>
<text transform="translate(805.40 519.60) scale(1.060 1)" font-size="18.00" text-anchor="middle">2002</text>
<text transform="translate(920.80 519.60) scale(1.060 1)" font-size="18.00" text-anchor="middle">2004</text>
<text transform="translate(517.00 558.80) scale(1.019 1)" font-size="23.00" text-anchor="middle">Time (year)</text>
<text transform="translate(47.90 479.50) rotate(-90) scale(1.010 1)" font-size="23.00">Monthly depositional flux of</text>
<text transform="translate(35.20 185.00) rotate(-90) scale(0.960 1)" font-size="16.00">210</text>
<text transform="translate(47.90 158.70) rotate(-90) scale(1.017 1)" font-size="23.00">Pb (Bq m</text>
<text transform="translate(35.20 59.30) rotate(-90) scale(0.960 1)" font-size="16.00">-2</text>
<text transform="translate(47.90 44.40) rotate(-90) scale(1.019 1)" font-size="23.00">)</text>
</svg></body></html>
